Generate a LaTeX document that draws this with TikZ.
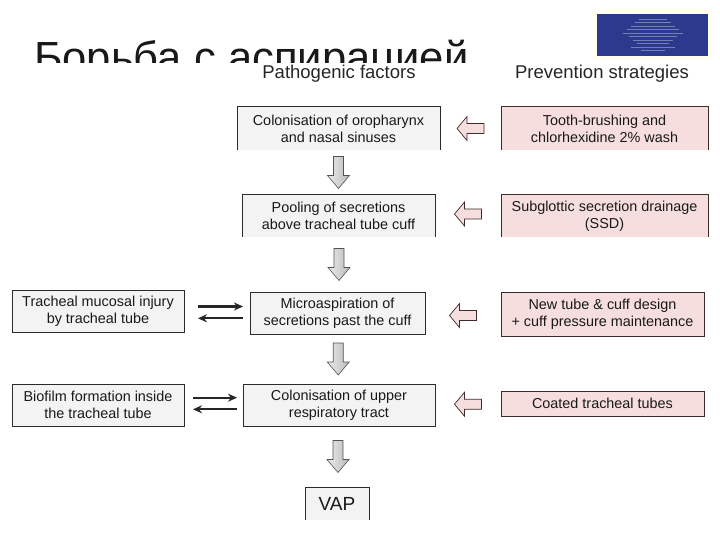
\documentclass[tikz,border=0pt]{standalone}
\usepackage{fontspec}
\setmainfont{Liberation Sans}
\usetikzlibrary{calc,arrows.meta}
\definecolor{boxgray}{HTML}{F3F3F3}
\definecolor{pinkfill}{HTML}{F6DEDE}
\definecolor{edgedark}{HTML}{2B2B2B}
\definecolor{pinkedge}{HTML}{3E2A2A}
\definecolor{imgblue}{HTML}{2C3A8E}
\begin{document}
\begin{tikzpicture}[x=1pt,y=-1pt,
  every node/.style={inner sep=0pt,outer sep=0pt},
  factor/.style={fill=boxgray,align=center,font=\fontsize{14.4}{17}\selectfont,text=black!90},
  prevent/.style={fill=pinkfill,align=center,font=\fontsize{14.4}{17}\selectfont,text=black!90},
  closedbox/.style={draw=edgedark,line width=1pt},
  closedpink/.style={draw=pinkedge,line width=1pt},
  downblk/.style={left color=gray!15,right color=gray!55,draw=gray!65!black,line width=0.6pt,line join=miter},
  leftblk/.style={fill=pinkfill,draw=pinkedge,line width=0.7pt,line join=miter},
  link/.style={line width=2.2pt,black!85,-{Stealth[length=9pt,width=8pt]}},
  heading/.style={font=\fontsize{18.5}{20}\selectfont,text=black!85}
]
\useasboundingbox (0,0) rectangle (720,540);
\fill[white] (0,0) rectangle (720,540);
% title, partly hidden
\begin{scope}
\clip (0,0) rectangle (720,62.5);
\node[anchor=base west,font=\fontsize{43.6}{48}\selectfont,text=black!90] (title) at (34,72.7) {Борьба с аспирацией};
\end{scope}
% picture at top right
\fill[yellow!6] (592,10) rectangle (712,60);
\fill[imgblue] (597,14) rectangle (708,56);
\foreach \yy/\ww in {19/14,22.5/18,26/22,29.5/26,33/30,36.5/24,40/20,43.5/16,47/22,50.5/12}
  \draw[white,opacity=0.35,line width=0.5pt] (652.5-\ww,\yy) -- (652.5+\ww,\yy);
% headings
\node[heading] (h1) at (339,73.5) {Pathogenic factors};
\node[heading] (h2) at (602,73.5) {Prevention strategies};
% pathogenic factors
\node[factor,minimum width=203pt,minimum height=43pt] (col) at (338.5,128.5) {Colonisation of oropharynx\\and nasal sinuses};
\node[factor,minimum width=193pt,minimum height=42pt] (pool) at (338.5,216) {Pooling of secretions\\above tracheal tube cuff};
\node[factor,closedbox,minimum width=175pt,minimum height=42pt] (micro) at (337.5,313) {Microaspiration of\\secretions past the cuff};
\node[factor,closedbox,minimum width=172pt,minimum height=42pt] (inj) at (98,311) {Tracheal mucosal injury\\by tracheal tube};
\node[factor,closedbox,minimum width=192pt,minimum height=42pt] (upper) at (339,405) {Colonisation of upper\\respiratory tract};
\node[factor,closedbox,minimum width=172pt,minimum height=42pt] (bio) at (98,405) {Biofilm formation inside\\the tracheal tube};
\node[factor,minimum width=64pt,minimum height=33pt,font=\fontsize{19}{22}\selectfont] (vap) at (337,503.5) {VAP};
% prevention strategies
\node[prevent,minimum width=207pt,minimum height=43pt] (brush) at (604.5,128.5) {Tooth-brushing and\\chlorhexidine 2\% wash};
\node[prevent,minimum width=207pt,minimum height=42pt] (ssd) at (604.5,216) {Subglottic secretion drainage\\(SSD)};
\node[prevent,closedpink,minimum width=203pt,minimum height=44pt] (design) at (602.5,314) {New tube \& cuff design\\+ cuff pressure maintenance};
\node[prevent,closedpink,minimum width=203pt,minimum height=25pt] (coated) at (602.5,403.5) {Coated tracheal tubes};
% open boxes (no bottom edge)
\foreach \n in {col,pool,vap}
  \draw[edgedark,line width=1pt] (\n.south west) -- (\n.north west) -- (\n.north east) -- (\n.south east);
\foreach \n in {brush,ssd}
  \draw[pinkedge,line width=1pt] (\n.south west) -- (\n.north west) -- (\n.north east) -- (\n.south east);
% down block arrows (centres between consecutive boxes)
\coordinate (d1) at ($(col.south)!0.5!(pool.north)$);
\coordinate (d2) at ($(pool.south)!0.5!(micro.north)+(1,0)$);
\coordinate (d3) at ($(micro.south)!0.5!(upper.north)$);
\coordinate (d4) at ($(upper.south)!0.5!(vap.north)$);
\foreach \c in {d1,d2,d3,d4}
  \draw[downblk] ([shift={(-5,-16)}]\c) -- ++(10,0) -- ++(0,19) -- ++(6,0) -- ++(-11,13) -- ++(-11,-13) -- ++(6,0) -- cycle;
% hollow left arrows
\coordinate (l1) at ($(col.east)!0.5!(brush.west)$);
\coordinate (l2) at ($(pool.east)!0.5!(ssd.west)+(0,-2)$);
\coordinate (l3) at ($(micro.east)!0.5!(design.west)+(0,2)$);
\coordinate (l4) at ($(upper.east)!0.5!(coated.west)$);
\foreach \c in {l1,l2,l3,l4}
  \draw[leftblk] ([shift={(-13.5,0)}]\c) -- ++(10,-12) -- ++(0,7) -- ++(17,0) -- ++(0,10) -- ++(-17,0) -- ++(0,7) -- cycle;
% two-way links
\draw[link,shorten <=14pt,shorten >=7pt] ([yshift=6.5pt]inj.east |- micro.west) -- ([yshift=6.5pt]micro.west);
\draw[link,shorten <=7pt,shorten >=14pt] ([yshift=-5.3pt]micro.west) -- ([yshift=-5.3pt]inj.east |- micro.west);
\draw[link,shorten <=9pt,shorten >=6pt] ([yshift=7.3pt]bio.east) -- ([yshift=7.3pt]upper.west);
\draw[link,shorten <=6pt,shorten >=9pt] ([yshift=-4.3pt]upper.west) -- ([yshift=-4.3pt]bio.east);
\end{tikzpicture}
\end{document}
